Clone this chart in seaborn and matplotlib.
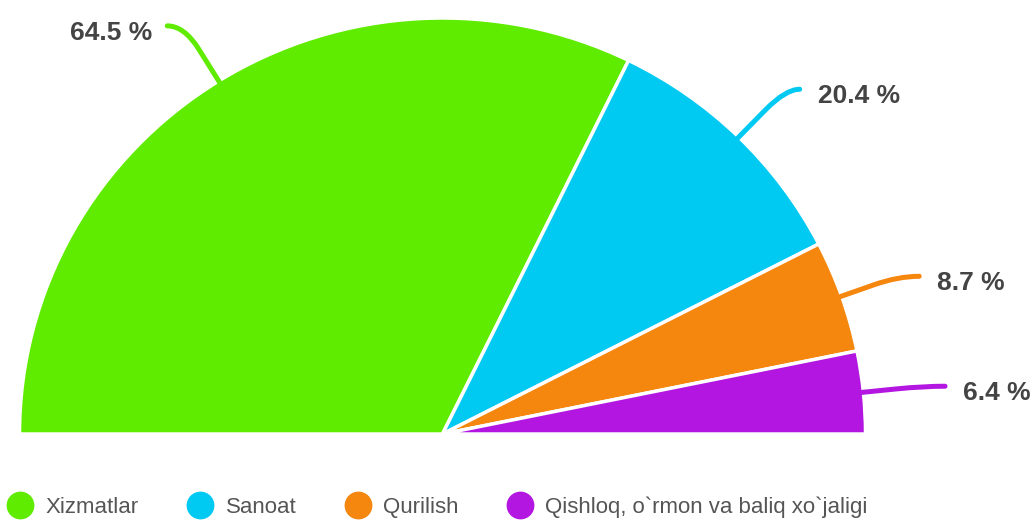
import matplotlib.pyplot as plt
import seaborn as sns
import numpy as np
from matplotlib.path import Path
from matplotlib.patches import PathPatch
from matplotlib.lines import Line2D

# Data
sectors = ["Xizmatlar", "Sanoat", "Qurilish", "Qishloq, o`rmon va baliq xo`jaligi"]
shares = [64.5, 20.4, 8.7, 6.4]
share_labels = ["64.5 %", "20.4 %", "8.7 %", "6.4 %"]
colors = ["#60EC00", "#00C9F2", "#F5860E", "#B316E0"]

sns.set_theme(style="white")
plt.rcParams['font.family'] = ['Liberation Sans', 'DejaVu Sans']

W, H = 1033, 520
fig = plt.figure(figsize=(W / 100, H / 100), dpi=100)
ax = fig.add_axes([0, 0, 1, 1])

palette = sns.color_palette(colors)
# half pie: add an invisible slice equal to the total
wedges, _ = ax.pie(shares + [sum(shares)], colors=list(palette) + [(1, 1, 1)],
                   startangle=180, counterclock=False, radius=1,
                   wedgeprops=dict(edgecolor="white", linewidth=2.5))
wedges[-1].set_visible(False)

# pixel scale of the (slightly squashed) half pie
cx, cy, sx, sy = 442.5, 434, 423, 416
ax.set_aspect("auto")
ax.set_xlim(-cx / sx, (W - cx) / sx)
ax.set_ylim((cy - H) / sy, cy / sy)
ax.axis("off")

# leader lines: radial length (px), horizontal hook (px)
leader_len = [65, 67, 60, 60]
hook = [-17, 14, 21, 22]
for w, lab, col, d, h in zip(wedges[:-1], share_labels, colors, leader_len, hook):
    th = np.deg2rad((w.theta1 + w.theta2) / 2)
    c, s = np.cos(th), np.sin(th)
    p0 = np.array([c * 0.99, s * 0.99])
    corner = np.array([c + d * c / sx, s + d * s / sy])
    end = corner + np.array([h / sx, 0])
    mid = p0 + 0.6 * (corner - p0)
    path = Path([p0, mid, corner, end],
                [Path.MOVETO, Path.LINETO, Path.CURVE3, Path.CURVE3])
    ax.add_patch(PathPatch(path, facecolor="none", edgecolor=col, lw=3.6,
                           capstyle="round"))
    gap = 18 / sx if h > 0 else -15 / sx
    ax.text(end[0] + gap, end[1] - 7 / sy, lab, ha="left" if h > 0 else "right",
            va="center", fontsize=19, fontweight="bold", color="#444444")

handles = [Line2D([], [], marker="o", linestyle="", markersize=19, color=c)
           for c in colors]
ax.legend(handles, sectors, loc="center left", ncol=4, frameon=False,
          bbox_to_anchor=(7 / W, (H - 507) / H), borderaxespad=0, borderpad=0,
          handlelength=1.2, handletextpad=0.55, columnspacing=2.15,
          fontsize=16, labelcolor="#555555")

fig.savefig("out.png", dpi=100)
